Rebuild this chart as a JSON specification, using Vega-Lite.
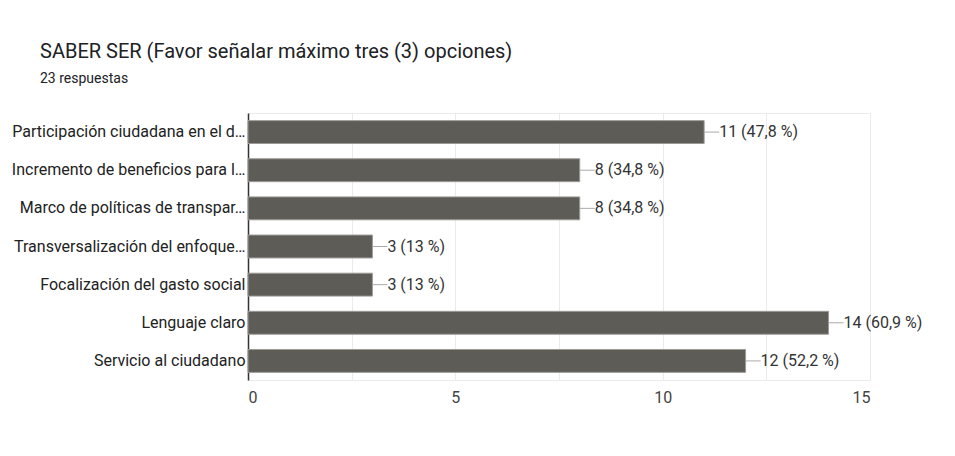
{
  "$schema": "https://vega.github.io/schema/vega-lite/v6.json",
  "width": 622,
  "height": 267,
  "autosize": "none",
  "padding": {"left": 248, "top": 113, "right": 85, "bottom": 76},
  "background": "white",
  "config": {"view": {"stroke": "#ebebeb", "strokeWidth": 1}},
  "title": {
    "text": "SABER SER (Favor señalar máximo tres (3) opciones)",
    "subtitle": "23 respuestas",
    "anchor": "start",
    "frame": "group",
    "dx": -208,
    "offset": 27,
    "font": "Roboto",
    "fontSize": 20,
    "fontWeight": "normal",
    "color": "#202124",
    "subtitleFont": "Roboto",
    "subtitleFontSize": 14,
    "subtitleColor": "#202124",
    "subtitlePadding": 10
  },
  "data": {
    "values": [
      {"opcion": "Participación ciudadana en el d…", "respuestas": 11, "etiqueta": "11 (47,8 %)"},
      {"opcion": "Incremento de beneficios para l…", "respuestas": 8, "etiqueta": "8 (34,8 %)"},
      {"opcion": "Marco de políticas de transpar…", "respuestas": 8, "etiqueta": "8 (34,8 %)"},
      {"opcion": "Transversalización del enfoque…", "respuestas": 3, "etiqueta": "3 (13 %)"},
      {"opcion": "Focalización del gasto social", "respuestas": 3, "etiqueta": "3 (13 %)"},
      {"opcion": "Lenguaje claro", "respuestas": 14, "etiqueta": "14 (60,9 %)"},
      {"opcion": "Servicio al ciudadano", "respuestas": 12, "etiqueta": "12 (52,2 %)"}
    ]
  },
  "encoding": {
    "y": {
      "field": "opcion",
      "type": "nominal",
      "sort": null,
      "scale": {"paddingInner": 0.4, "paddingOuter": 0.2},
      "axis": {
        "title": null,
        "domain": true,
        "domainColor": "#333333",
        "domainWidth": 1.5,
        "ticks": false,
        "grid": false,
        "labelPadding": 3,
        "labelFont": "Roboto",
        "labelFontSize": 16,
        "labelColor": "#222222",
        "labelLimit": 0
      }
    }
  },
  "layer": [
    {
      "mark": {"type": "bar", "fill": "#5e5c57", "stroke": "#9c9a96", "strokeWidth": 1},
      "encoding": {
        "x": {
          "field": "respuestas",
          "type": "quantitative",
          "scale": {"domain": [0, 15], "nice": false},
          "axis": {
            "title": null,
            "values": [0, 2.5, 5, 7.5, 10, 12.5, 15],
            "labelExpr": "datum.value % 5 == 0 ? datum.label : ''",
            "domain": false,
            "ticks": false,
            "gridColor": "#ebebeb",
            "labelFont": "Roboto",
            "labelFontSize": 16,
            "labelColor": "#444444",
            "labelPadding": 9
          }
        }
      }
    },
    {
      "mark": {"type": "rule", "color": "#aaaaaa", "strokeWidth": 1, "x2Offset": 15},
      "encoding": {
        "x": {"field": "respuestas", "type": "quantitative"},
        "x2": {"field": "respuestas"}
      }
    },
    {
      "mark": {"type": "text", "align": "left", "baseline": "middle", "dx": 15, "font": "Roboto", "fontSize": 16, "color": "#333333"},
      "encoding": {
        "x": {"field": "respuestas", "type": "quantitative"},
        "text": {"field": "etiqueta"}
      }
    }
  ]
}
